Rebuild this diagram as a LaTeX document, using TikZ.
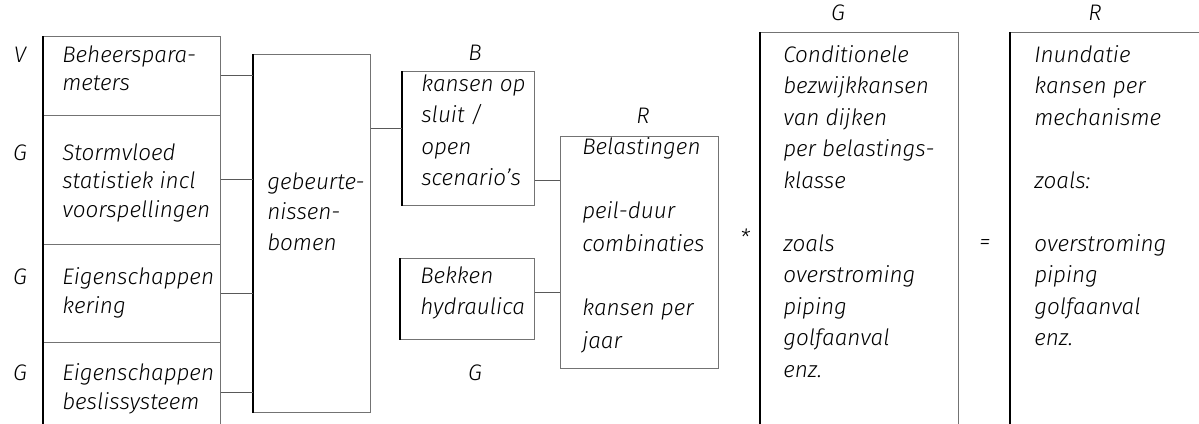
\documentclass[tikz,border=0pt]{standalone}
\usepackage{fontspec}
\setmainfont{Fira Sans}[UprightFont=* Light, ItalicFont=* Light Italic]
\usetikzlibrary{calc}
\newcommand{\pxl}{0.025cm}
\newcommand{\boxfont}{\fontsize{16}{22.4}\selectfont\itshape}
\newcommand{\cellfont}{\fontsize{16}{20.5}\selectfont\itshape}
\tikzset{
    common/.style={anchor=north west, draw=black!55, line width=0.5pt, rectangle, inner sep=0pt},
    cell/.style={common, minimum width=177*\pxl},
    txt/.style={anchor=north west, align=left, inner sep=0pt, font=\boxfont},
    celltxt/.style={txt, font=\cellfont},
    tag/.style={inner sep=0pt, font=\boxfont},
    link/.style={draw=black!65, line width=0.6pt},
    heavy/.style={line width=1.1pt, black}
}

\begin{document}
\begin{tikzpicture}[x=\pxl, y=-\pxl]
    \useasboundingbox (0,0) rectangle (1199,423);

    % left column
    \node[cell, minimum height=79*\pxl] (beheer) at (43,36) {};
    \node[cell, minimum height=129*\pxl] (storm) at (43,115) {};
    \node[cell, minimum height=98*\pxl] (kering) at (43,244) {};
    \node[cell, minimum height=100*\pxl] (beslis) at (43,342) {};

    \node[celltxt] (beheer-txt) at (62,45) {Beheerspara-\\meters};
    \node[celltxt] (storm-txt) at (62,143) {Stormvloed\\statistiek incl\\voorspellingen};
    \node[celltxt] (kering-txt) at (62,267) {Eigenschappen\\kering};
    \node[celltxt] (beslis-txt) at (62,363) {Eigenschappen\\beslissysteem};

    \node[tag] (beheer-tag) at (20,55) {V};
    \node[tag] (storm-tag) at (20,153) {G};
    \node[tag] (kering-tag) at (20,277) {G};
    \node[tag] (beslis-tag) at (20,373) {G};

    % middle
    \node[common, minimum width=117*\pxl, minimum height=358*\pxl] (bomen) at (253,54) {};
    \node[txt, font=\fontsize{16}{21.7}\selectfont\itshape] (bomen-txt) at (267,172) {gebeurte-\\nissen-\\bomen};

    \node[common, minimum width=132*\pxl, minimum height=134*\pxl] (sluit) at (402,71) {};
    \node[txt] (sluit-txt) at (421,74) {kansen op\\sluit /\\open\\scenario's};
    \node[tag] (sluit-tag) at (475,53) {B};

    \node[common, minimum width=134*\pxl, minimum height=81*\pxl] (bekken) at (400,258) {};
    \node[txt] (bekken-txt) at (420,266) {Bekken\\hydraulica};
    \node[tag] (bekken-tag) at (475,373) {G};

    \node[common, minimum width=158*\pxl, minimum height=232*\pxl] (belast) at (560,136) {};
    \node[txt, font=\fontsize{16}{23}\selectfont\itshape] (belast-txt) at (582,137) {Belastingen\\[23pt]peil-duur\\combinaties\\[23pt]kansen per\\jaar};
    \node[tag] (belast-tag) at (643,116) {R};

    % right
    \node[common, minimum width=198*\pxl, minimum height=420*\pxl] (cond) at (760,32) {};
    \node[txt] (cond-txt) at (783,45) {Conditionele\\bezwijkkansen\\van dijken\\per belastings-\\klasse\\[22.4pt]zoals\\overstroming\\piping\\golfaanval\\enz.};
    \node[tag] (cond-tag) at (838,13) {G};

    \node[common, minimum width=230*\pxl, minimum height=420*\pxl] (inund) at (1010,32) {};
    \node[txt] (inund-txt) at (1034,45) {Inundatie\\kansen per\\mechanisme\\[22.4pt]zoals:\\[22.4pt]overstroming\\piping\\golfaanval\\enz.};
    \node[tag] (inund-tag) at (1095,13) {R};

    \node[tag] (times) at (745,237) {*};
    \node[tag] (equals) at (985,244) {=};

    \foreach \n in {beheer, storm, kering, beslis, bomen, sluit, bekken, cond, inund}
        \draw[heavy] (\n.north west) -- (\n.south west);

    % links
    \foreach \n in {beheer, storm, kering, beslis}
        \draw[link] (\n.east) -- (bomen.west |- \n.east);
    \coordinate (j-bomen) at (0,128);
    \coordinate (j-sluit) at (0,180);
    \coordinate (j-bekken) at (0,292);
    \draw[link] (bomen.east |- j-bomen) -- (sluit.west |- j-bomen);
    \draw[link] (sluit.east |- j-sluit) -- (belast.west |- j-sluit);
    \draw[link] (bekken.east |- j-bekken) -- (belast.west |- j-bekken);
\end{tikzpicture}
\end{document}
